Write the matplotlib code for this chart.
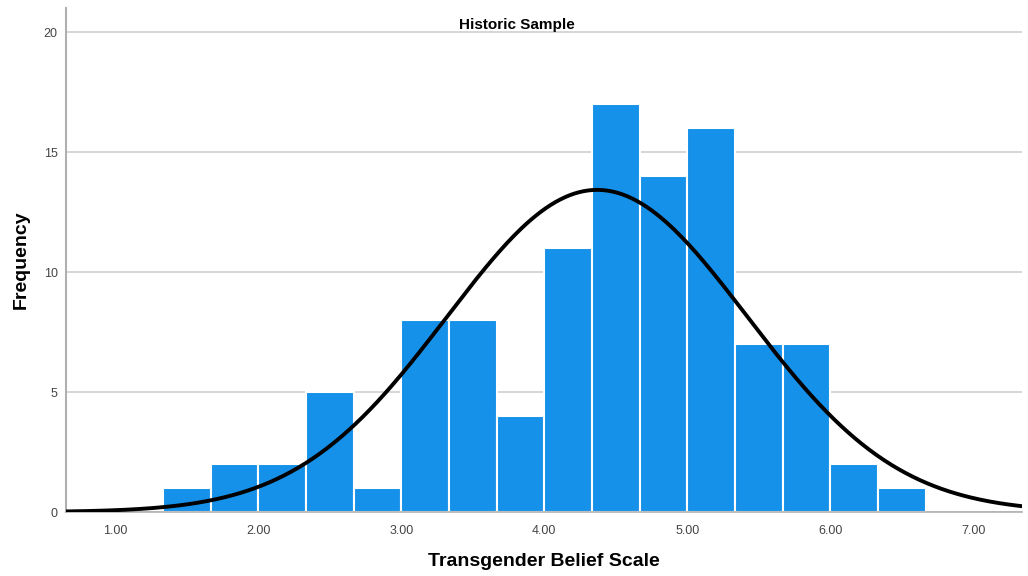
import numpy as np
import matplotlib
matplotlib.use("Agg")
import matplotlib.pyplot as plt

# bin edges (width 1/3) and counts
bin_start = 4 / 3
bin_width = 1 / 3
counts = [1, 2, 2, 5, 1, 8, 8, 4, 11, 17, 14, 16, 7, 7, 2, 1]

# normal curve parameters (fitted line)
mean_val = 4.37
sd_val = 1.05

x_ticks = [1, 2, 3, 4, 5, 6, 7]
x_labels = ["1.00", "2.00", "3.00", "4.00", "5.00", "6.00", "7.00"]
y_ticks = [0, 5, 10, 15, 20]

plt.rcParams["font.family"] = ["Liberation Sans", "DejaVu Sans"]

fig = plt.figure(figsize=(10.28, 5.76), dpi=100)
ax = fig.add_axes([0.0642, 0.111, 0.9298, 0.875])

edges = bin_start + bin_width * np.arange(len(counts))
ax.bar(edges, counts, width=bin_width, align="edge",
       color="#1591EA", edgecolor="white", linewidth=1.5, zorder=2)

n_total = sum(counts)
xs = np.linspace(0.65, 7.35, 400)
ys = n_total * bin_width / (sd_val * np.sqrt(2 * np.pi)) * np.exp(-0.5 * ((xs - mean_val) / sd_val) ** 2)
ax.plot(xs, ys, color="black", linewidth=2.8, zorder=3)

ax.set_xlim(0.655, 7.34)
ax.set_ylim(0, 21)
ax.set_xticks(x_ticks)
ax.set_xticklabels(x_labels)
ax.set_yticks(y_ticks)
ax.yaxis.grid(True, color="#d0d0d0", linewidth=1.2, zorder=0)
ax.set_axisbelow(True)

for side in ["top", "right"]:
    ax.spines[side].set_visible(False)
ax.spines["left"].set_color("#b0b0b0")
ax.spines["left"].set_linewidth(1.5)
ax.spines["bottom"].set_color("#b0b0b0")
ax.spines["bottom"].set_linewidth(1.2)
ax.tick_params(axis="both", length=0, labelsize=9, colors="#444444", pad=9)
ax.tick_params(axis="y", pad=6)

ax.set_xlabel("Transgender Belief Scale", fontsize=14, fontweight="bold", labelpad=12)
ax.set_ylabel("Frequency", fontsize=14, fontweight="bold", labelpad=10)
ax.text(0.472, 0.966, "Historic Sample", transform=ax.transAxes,
        ha="center", va="center", fontsize=11, fontweight="bold")

fig.savefig("out.png", dpi=100)
